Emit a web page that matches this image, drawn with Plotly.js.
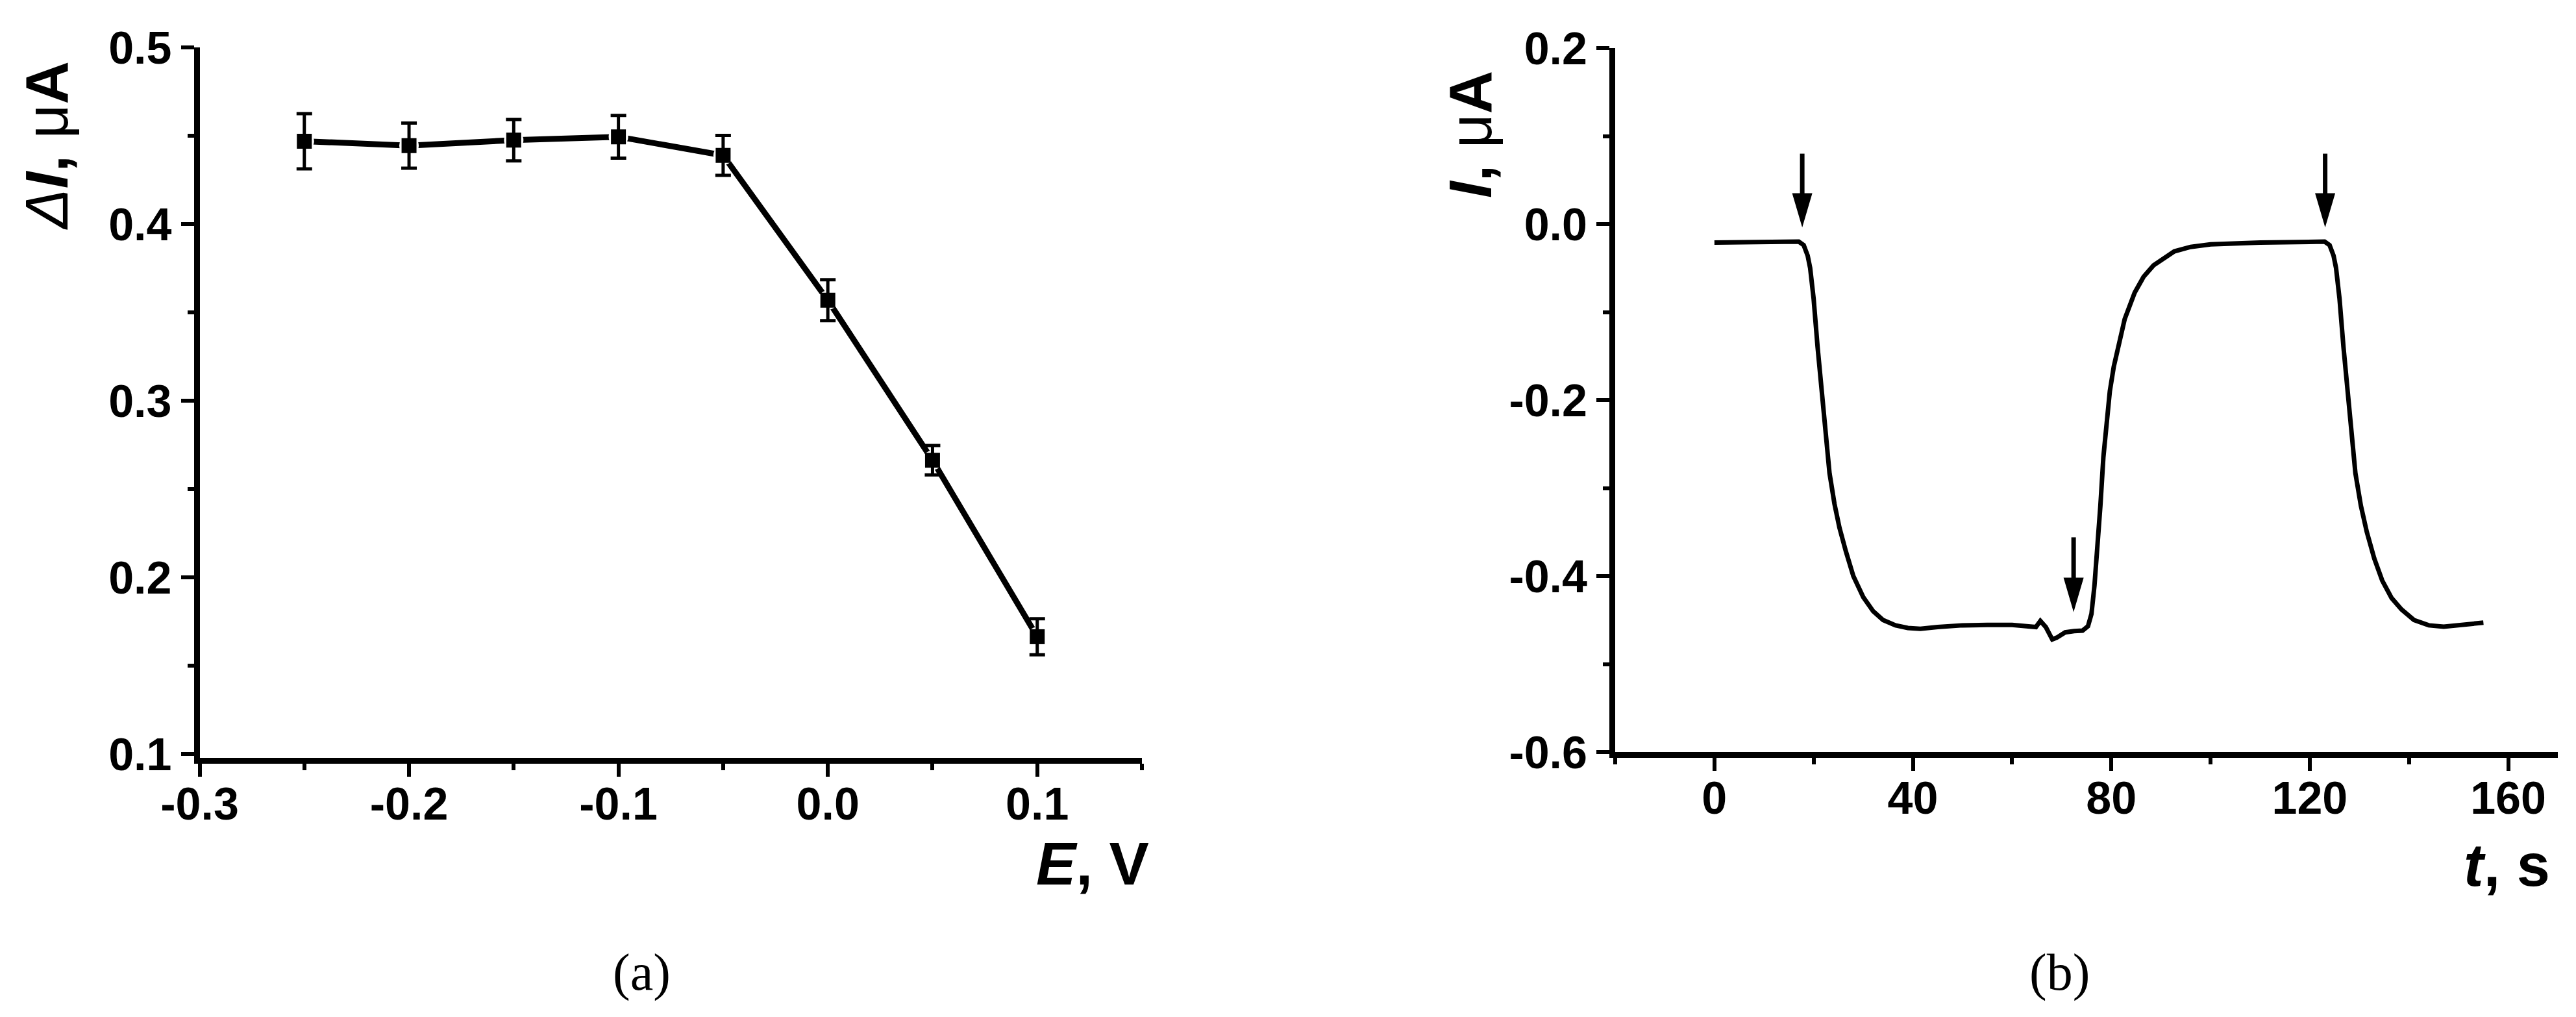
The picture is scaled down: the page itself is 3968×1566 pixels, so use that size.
<!DOCTYPE html>
<html>
<head>
    <meta charset="utf-8">
    <title>Response vs potential and current transient</title>
    <style>
        html, body, #plot {
            width: 3968px;
            height: 1566px;
            margin: 0;
            padding: 0;
            overflow: hidden;
            background: #ffffff;
        }
    </style>
    <script src="https://cdn.plot.ly/plotly-3.0.1.min.js"></script>
</head>
<body>
<div id="plot"></div>
<script>
    // panel (a): response vs applied potential
    const potentialE = [-0.25, -0.2, -0.15, -0.1, -0.05, 0.0, 0.05, 0.1];
    const deltaI = [0.447, 0.4445, 0.4476, 0.4495, 0.439, 0.357, 0.2664, 0.1665];
    const deltaIErr = [0.0156, 0.0128, 0.0117, 0.0121, 0.0113, 0.0116, 0.0083, 0.0102];

    // panel (b): current transient
    const timeS = [0, 5, 10, 15, 17, 18, 18.8, 19.3, 20, 20.8, 21.6, 22.4, 23.2, 24.2, 25.2, 26.5,
        28, 30, 32, 34, 36.5, 39, 41.5, 45, 50, 55, 60, 64.8, 65.7, 66.8, 68.1, 69, 70.7, 72.5,
        74.2, 75.3, 76.0, 76.6, 77.2, 77.8, 78.4, 79.0, 79.7, 80.5, 81.5, 82.7, 84.7, 86.5, 88.5,
        92.7, 96, 100, 110, 118, 123, 124, 124.8, 125.3, 126, 126.8, 127.6, 128.4, 129.2, 130.3,
        131.5, 133, 134.6, 136.5, 138.5, 141, 144, 147, 150, 153, 155];
    const currentI = [-0.021, -0.021, -0.0205, -0.0205, -0.020, -0.024, -0.036, -0.05, -0.085,
        -0.14, -0.19, -0.24, -0.283, -0.318, -0.345, -0.372, -0.400, -0.424, -0.440, -0.450,
        -0.456, -0.459, -0.460, -0.458, -0.456, -0.4555, -0.4555, -0.458, -0.451, -0.458,
        -0.472, -0.470, -0.464, -0.4625, -0.462, -0.457, -0.443, -0.411, -0.37, -0.32, -0.265,
        -0.225, -0.19, -0.162, -0.135, -0.108, -0.078, -0.060, -0.047, -0.031, -0.026, -0.023,
        -0.021, -0.0205, -0.020, -0.024, -0.036, -0.05, -0.085, -0.14, -0.19, -0.24, -0.283,
        -0.32, -0.35, -0.38, -0.405, -0.425, -0.438, -0.450, -0.456, -0.4575, -0.456, -0.454,
        -0.453];

    // arrows marking the injections on (b)
    const arrowT = [17.7, 72.4, 123.1];
    const arrowFrom = [0.08, -0.356, 0.08];
    const arrowTo = [0.0, -0.437, 0.0];

    // tick labels
    const eTicks = [-0.3, -0.2, -0.1, 0.0, 0.1];
    const eLabels = ['-0.3', '-0.2', '-0.1', '0.0', '0.1'];
    const dITicks = [0.1, 0.2, 0.3, 0.4, 0.5];
    const dILabels = ['0.1', '0.2', '0.3', '0.4', '0.5'];
    const tTicks = [0, 40, 80, 120, 160];
    const tLabels = ['0', '40', '80', '120', '160'];
    const iTicks = [-0.6, -0.4, -0.2, 0.0, 0.2];
    const iLabels = ['-0.6', '-0.4', '-0.2', '0.0', '0.2'];

    const W = 3968, H = 1566;
    const fx = function (p) { return p / W; };
    const fy = function (p) { return 1 - p / H; };

    const FONT = 'Liberation Sans, Arial, Helvetica, sans-serif';
    const tickFont = {family: FONT, size: 70, color: '#000000', weight: 'bold'};

    function axisStyle(extra) {
        return Object.assign({
            showline: true,
            linecolor: '#000000',
            linewidth: 9,
            showgrid: false,
            zeroline: false,
            ticks: 'outside',
            ticklen: 20,
            tickwidth: 6,
            tickcolor: '#000000',
            tickfont: tickFont,
            tickmode: 'array',
            fixedrange: true
        }, extra);
    }

    function minorTicks(tick0, dtick) {
        return {
            tickmode: 'linear',
            tick0: tick0,
            dtick: dtick,
            ticks: 'outside',
            ticklen: 10,
            tickwidth: 6,
            tickcolor: '#000000',
            showgrid: false
        };
    }

    const traceLine = {
        x: potentialE, y: deltaI,
        type: 'scatter', mode: 'lines',
        line: {color: '#000000', width: 9},
        xaxis: 'x', yaxis: 'y',
        hoverinfo: 'skip', showlegend: false
    };
    // white halo gives the little gap between line and symbols
    const traceHalo = {
        x: potentialE, y: deltaI,
        type: 'scatter', mode: 'markers',
        marker: {symbol: 'circle', size: 30, color: '#ffffff'},
        xaxis: 'x', yaxis: 'y',
        hoverinfo: 'skip', showlegend: false
    };
    const tracePoints = {
        x: potentialE, y: deltaI,
        type: 'scatter', mode: 'markers',
        marker: {symbol: 'square', size: 23, color: '#000000'},
        error_y: {type: 'data', array: deltaIErr, visible: true,
            color: '#000000', thickness: 5, width: 12},
        xaxis: 'x', yaxis: 'y',
        showlegend: false
    };
    const traceCurrent = {
        x: timeS, y: currentI,
        type: 'scatter', mode: 'lines',
        line: {color: '#000000', width: 7},
        xaxis: 'x2', yaxis: 'y2',
        showlegend: false
    };

    // arrows: shaft + long narrow head, in data units of (b)
    const headLen = 0.034, headHalf = 1.77;
    const shapes = [];
    arrowT.forEach(function (t, i) {
        shapes.push({
            type: 'line', xref: 'x2', yref: 'y2',
            x0: t, x1: t, y0: arrowFrom[i], y1: arrowTo[i] + headLen * 0.6,
            line: {color: '#000000', width: 7}
        });
        shapes.push({
            type: 'path', xref: 'x2', yref: 'y2',
            path: 'M' + (t - headHalf) + ',' + (arrowTo[i] + headLen) +
                ' L' + (t + headHalf) + ',' + (arrowTo[i] + headLen) +
                ' L' + t + ',' + arrowTo[i] + ' Z',
            fillcolor: '#000000',
            line: {color: '#000000', width: 3}
        });
    });

    const titleFont = {family: FONT, size: 92, color: '#000000'};
    const captionFont = {family: 'Liberation Serif, Times New Roman, serif', size: 80, color: '#000000'};

    const annotations = [
        {text: '<i>Δ</i><b><i>I</i>, </b>μ<b>A</b>', textangle: -90,
            xref: 'paper', yref: 'paper', x: fx(72), y: fy(224),
            xanchor: 'center', yanchor: 'middle', showarrow: false, font: titleFont},
        {text: '<b><i>E</i>, V</b>',
            xref: 'paper', yref: 'paper', x: fx(1772), y: fy(1330),
            xanchor: 'right', yanchor: 'middle', showarrow: false, font: titleFont},
        {text: '<b><i>I</i>, </b>μ<b>A</b>', textangle: -90,
            xref: 'paper', yref: 'paper', x: fx(2265), y: fy(207),
            xanchor: 'center', yanchor: 'middle', showarrow: false, font: titleFont},
        {text: '<b><i>t</i>, s</b>',
            xref: 'paper', yref: 'paper', x: fx(3930), y: fy(1332),
            xanchor: 'right', yanchor: 'middle', showarrow: false, font: titleFont},
        {text: '(a)', xref: 'paper', yref: 'paper', x: fx(988), y: fy(1497),
            xanchor: 'center', yanchor: 'middle', showarrow: false, font: captionFont},
        {text: '(b)', xref: 'paper', yref: 'paper', x: fx(3172), y: fy(1497),
            xanchor: 'center', yanchor: 'middle', showarrow: false, font: captionFont}
    ];

    const layout = {
        width: W,
        height: H,
        margin: {l: 0, r: 0, t: 0, b: 0, pad: 0},
        paper_bgcolor: '#ffffff',
        plot_bgcolor: '#ffffff',
        showlegend: false,
        xaxis: axisStyle({
            domain: [fx(307.5), fx(1759)],
            range: [-0.3, 0.15],
            tickvals: eTicks, ticktext: eLabels,
            ticklabelstandoff: -18,
            minor: minorTicks(-0.3, 0.05),
            anchor: 'y'
        }),
        yaxis: axisStyle({
            domain: [fy(1167), fy(73.3)],
            range: [0.0979, 0.5],
            tickvals: dITicks, ticktext: dILabels,
            minor: minorTicks(0.1, 0.05),
            anchor: 'x'
        }),
        xaxis2: axisStyle({
            domain: [fx(2488), fx(3940)],
            range: [-20, 170],
            tickvals: tTicks, ticktext: tLabels,
            ticklabelstandoff: -18,
            minor: minorTicks(-20, 20),
            anchor: 'y2'
        }),
        yaxis2: axisStyle({
            domain: [fy(1158), fy(74)],
            range: [-0.6, 0.2],
            tickvals: iTicks, ticktext: iLabels,
            minor: minorTicks(-0.6, 0.1),
            anchor: 'x2'
        }),
        shapes: shapes,
        annotations: annotations
    };

    const config = {displayModeBar: false, staticPlot: true};

    Plotly.newPlot('plot', [traceLine, traceHalo, tracePoints, traceCurrent], layout, config);
</script>
</body>
</html>
